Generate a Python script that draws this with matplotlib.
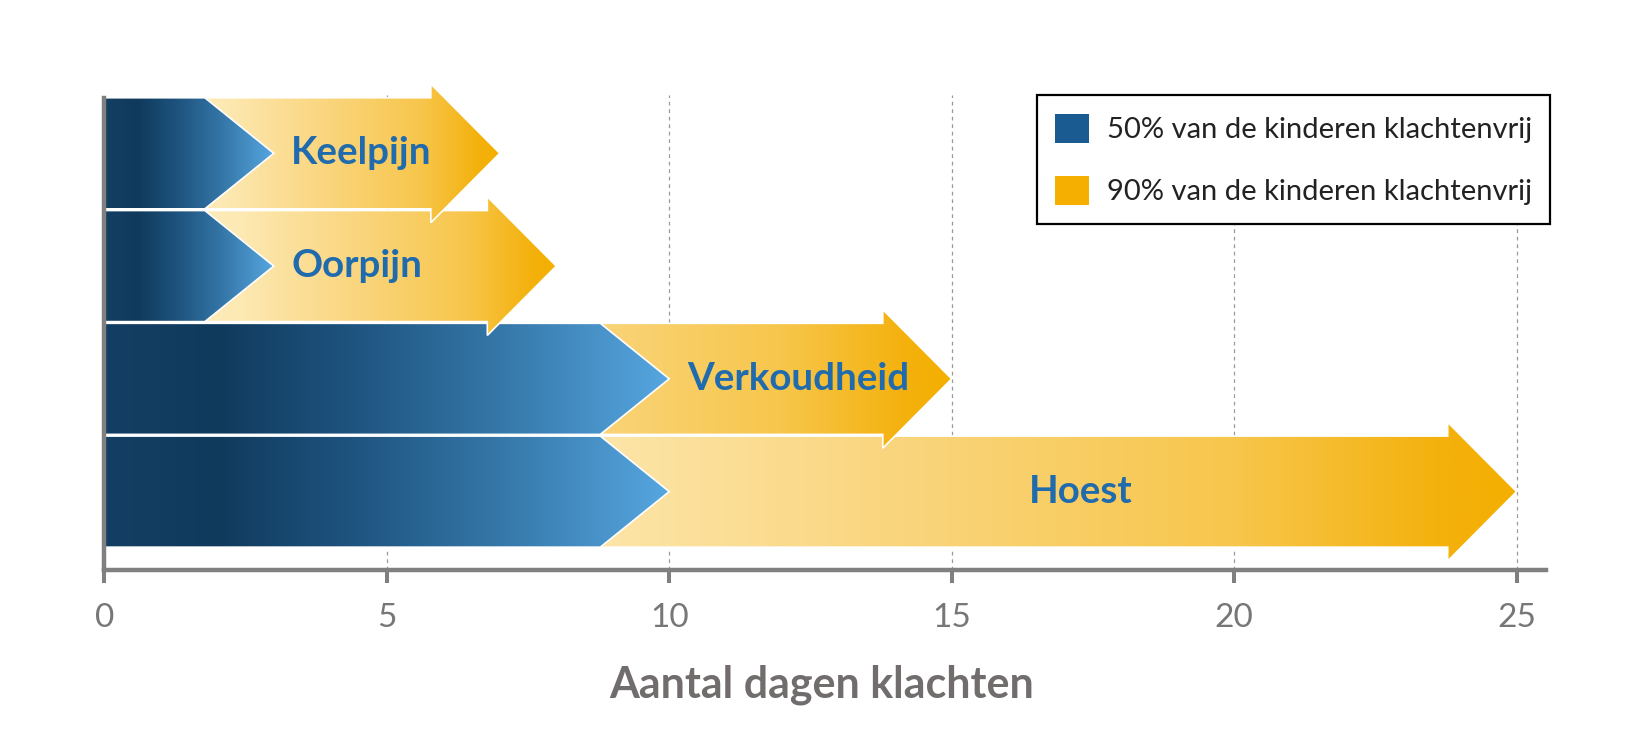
import numpy as np
import matplotlib
matplotlib.use('Agg')
import matplotlib.pyplot as plt
from matplotlib.colors import LinearSegmentedColormap
from matplotlib.patches import Polygon, Patch

# rows top to bottom
KLACHTEN = ['Keelpijn', 'Oorpijn', 'Verkoudheid', 'Hoest']
DAGEN_50 = [3, 3, 10, 10]     # 50% van de kinderen klachtenvrij
DAGEN_90 = [7, 8, 15, 25]     # 90% van de kinderen klachtenvrij
XTICKS = [0, 5, 10, 15, 20, 25]
LEGEND_LABELS = ['50% van de kinderen klachtenvrij', '90% van de kinderen klachtenvrij']

BLUE = '#1A5C92'
YELLOW = '#F4AF00'
GREY = '#808080'

blue_cmap = LinearSegmentedColormap.from_list('blauw', [
    (0.0, '#143F64'), (0.2, '#103A5C'), (0.45, '#1F5581'),
    (0.7, '#3577A8'), (1.0, '#56A6E0')])
yellow_cmap = LinearSegmentedColormap.from_list('geel', [
    (0.0, '#FEF1CC'), (0.3, '#FDE9B3'), (0.55, '#FAD680'),
    (0.8, '#F7C64C'), (0.95, '#F4B10C'), (1.0, '#F4AF00')])

HEAD = 1.22       # arrow head length in days
BAR_H = 0.985
HEAD_H = 1.23

plt.rcParams['font.family'] = ['Lato', 'DejaVu Sans']

fig = plt.figure(figsize=(16.35, 7.35), dpi=100)
ax = fig.add_axes([104.3 / 1635, 165 / 735, (1546 - 104.3) / 1635, (570 - 80) / 735])

grad = np.linspace(0, 1, 512).reshape(1, -1)


def gradient_shape(verts, cmap, x_end, y0, y1, z, edge):
    poly = Polygon(verts, closed=True, facecolor='none', edgecolor=edge,
                   linewidth=1.2, zorder=z + 0.5, joinstyle='miter')
    ax.add_patch(poly)
    im = ax.imshow(grad, cmap=cmap, extent=(0, x_end, y0, y1), aspect='auto',
                   interpolation='bicubic', zorder=z)
    im.set_clip_path(poly)


n = len(KLACHTEN)
for i in range(n - 1, -1, -1):
    y = n - 1 - i
    z = 2 + (n - i) * 2
    top, bot = y + BAR_H / 2, y - BAR_H / 2
    # 90% arrow
    t = DAGEN_90[i]
    verts = [(0, bot), (t - HEAD, bot), (t - HEAD, y - HEAD_H / 2), (t, y),
             (t - HEAD, y + HEAD_H / 2), (t - HEAD, top), (0, top)]
    gradient_shape(verts, yellow_cmap, t, y - HEAD_H / 2, y + HEAD_H / 2, z, 'white')
    # 50% chevron
    b = DAGEN_50[i]
    verts = [(0, bot), (b - HEAD, bot), (b, y), (b - HEAD, top), (0, top)]
    gradient_shape(verts, blue_cmap, b, bot, top, z + 1, 'white')
    # label
    if DAGEN_90[i] - DAGEN_50[i] > 2 * (len(KLACHTEN[i]) * 0.4 + 1):
        lx, ha = (DAGEN_50[i] + DAGEN_90[i]) / 2 - 0.22, 'center'
    else:
        lx, ha = DAGEN_50[i] + 0.31, 'left'
    ax.text(lx, y, KLACHTEN[i], ha=ha, va='center', fontsize=27.7,
            fontweight='bold', color='#1F6BAD', zorder=20)

ax.set_xlim(0, 25.52)
ax.set_ylim(-0.695, 3.65)

ax.vlines(XTICKS[1:], -0.695, 3.52, colors='#9a9a9a', linestyles=(0, (3, 3)),
          linewidth=0.9, zorder=1)

for s in ['top', 'right']:
    ax.spines[s].set_visible(False)
ax.spines['left'].set_bounds(-0.695, 3.49)
for s in ['left', 'bottom']:
    ax.spines[s].set_color(GREY)
    ax.spines[s].set_linewidth(3.2)
    ax.spines[s].set_zorder(30)
ax.set_yticks([])
ax.set_xticks(XTICKS)
ax.tick_params(axis='x', length=9.5, width=2.9, color=GREY, labelcolor='#777777',
               labelsize=24, pad=14)
ax.set_xlabel('Aantal dagen klachten', fontsize=31, fontweight='bold',
              color='#726D6D')
ax.xaxis.set_label_coords(0.4975, -0.235)
ax.xaxis.label.set_verticalalignment('center')

handles = [Patch(facecolor=BLUE), Patch(facecolor=YELLOW)]
leg = ax.legend(handles, LEGEND_LABELS, loc='upper right', bbox_to_anchor=(1.0028, 0.969),
                borderaxespad=0, fancybox=False, framealpha=1, edgecolor='black',
                prop={'family': 'Lato', 'weight': 'normal', 'size': 21},
                handlelength=1.17, handleheight=1.17, handletextpad=0.6,
                labelspacing=1.12, borderpad=0.63)
leg.get_frame().set_linewidth(1.6)
leg.set_zorder(40)
for txt in leg.get_texts():
    txt.set_color('#222222')

fig.savefig('out.png', dpi=100, facecolor='white')
